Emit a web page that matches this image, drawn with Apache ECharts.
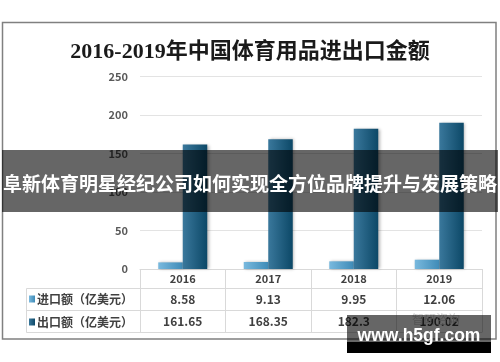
<!DOCTYPE html>
<html>
<head>
<meta charset="utf-8">
<script src="https://cdn.jsdelivr.net/npm/echarts@6/dist/echarts.min.js"></script>
<style>html,body{margin:0;padding:0;background:#fff}#c{width:500px;height:362px}</style>
</head>
<body>
<div id="c"></div>
<script>
var titleText = '2016-2019年中国体育用品进出口金额';
var years = ['2016', '2017', '2018', '2019'];
var importName = '进口额（亿美元）';
var exportName = '出口额（亿美元）';
var importVals = [8.58, 9.13, 9.95, 12.06];
var exportVals = [161.65, 168.35, 182.3, 190.02];
var yTicks = [0, 50, 100, 150, 200, 250];
var bannerText = '阜新体育明星经纪公司如何实现全方位品牌提升与发展策略';
var watermarkText = 'www.h5gf.com';
var logoText = '智研咨询';

var chart = echarts.init(document.getElementById('c'), null, {renderer: 'canvas'});
var lineC = '#d9d9d9';
var txtC = '#404040';
var cjk = "'Noto Sans CJK SC', sans-serif";

function tableAxis(offset, vals) {
  return {
    type: 'category', data: years, position: 'bottom', offset: offset,
    axisLine: {show: true, lineStyle: {color: lineC, width: 1}},
    axisTick: {show: false},
    axisLabel: {
      show: !!vals, margin: 5, color: txtC, fontSize: 12, fontWeight: 'bold', fontFamily: cjk,
      formatter: function (v, i) { return vals ? String(vals[i]) : ''; }
    }
  };
}

var option = {
  backgroundColor: '#fff',
  animation: false,
  title: {
    text: titleText, left: 'center', top: 36,
    textStyle: {fontSize: 22, fontWeight: 'bold', color: '#1a1a1a', fontFamily: "'Liberation Serif', 'Noto Sans CJK SC', serif"}
  },
  legend: {
    orient: 'vertical', left: 29, top: 292, padding: 0, itemWidth: 6, itemHeight: 7, itemGap: 9,
    icon: 'rect', selectedMode: false,
    textStyle: {fontSize: 12, fontWeight: 'bold', color: txtC, fontFamily: cjk, lineHeight: 14, padding: [0, 0, 0, -3]},
    data: [importName, exportName]
  },
  grid: {left: 140, right: 18, top: 76.5, bottom: 93},
  xAxis: [
    {
      type: 'category', data: years, position: 'bottom',
      axisLine: {show: true, lineStyle: {color: lineC}},
      axisTick: {show: true, length: 63, lineStyle: {color: lineC}},
      axisLabel: {margin: 4, color: txtC, fontSize: 11, fontWeight: 'bold', fontFamily: cjk}
    },
    tableAxis(19, importVals),
    tableAxis(41, exportVals),
    tableAxis(63, null)
  ],
  yAxis: {
    type: 'value', min: 0, max: 250, interval: 50,
    axisLine: {show: false}, axisTick: {show: false},
    axisLabel: {margin: 12, color: '#595959', fontSize: 11, fontWeight: 'bold', fontFamily: cjk,
      formatter: function (v) { return yTicks.indexOf(v) >= 0 ? String(v) : ''; }},
    splitLine: {lineStyle: {color: '#e3e3e3', width: 1}}
  },
  series: [
    {
      name: importName, type: 'bar', data: importVals, barWidth: 24.5, barGap: '0%',
      itemStyle: {
        color: new echarts.graphic.LinearGradient(0, 0, 1, 0, [{offset: 0, color: '#79b9de'}, {offset: 1, color: '#3f8bb7'}]),
        shadowColor: 'rgba(0,0,0,0.3)', shadowBlur: 3, shadowOffsetX: 1.5
      }
    },
    {
      name: exportName, type: 'bar', data: exportVals, barWidth: 24.5,
      itemStyle: {
        color: new echarts.graphic.LinearGradient(0, 0, 1, 0, [{offset: 0, color: '#3a789c'}, {offset: 1, color: '#0c4867'}]),
        shadowColor: 'rgba(0,0,0,0.3)', shadowBlur: 3, shadowOffsetX: 1.5
      }
    }
  ],
  graphic: [
    {type: 'rect', z: 0, silent: true, shape: {x: 2.5, y: 22.5, width: 493.5, height: 316.5},
      style: {fill: 'none', stroke: '#808080', lineWidth: 1.5}},
    {type: 'polyline', z: 1, silent: true, shape: {points: [[140, 288.5], [26.5, 288.5], [26.5, 332.5], [140, 332.5]]},
      style: {fill: 'none', stroke: lineC, lineWidth: 1}},
    {type: 'line', z: 1, silent: true, shape: {x1: 26.5, y1: 310.5, x2: 140, y2: 310.5},
      style: {stroke: lineC, lineWidth: 1}},
    {type: 'text', z: 5, silent: true, left: 412, top: 313,
      style: {text: logoText, fill: '#cfcfcf', font: "12px 'Noto Sans CJK SC'"}},
    {type: 'rect', z: 100, silent: true, shape: {x: 2, y: 150, width: 496, height: 62},
      style: {fill: 'rgba(0,0,0,0.6)'}},
    {type: 'text', z: 101, silent: true, x: 250, y: 184,
      style: {text: bannerText, fill: '#fff', align: 'center', verticalAlign: 'middle',
        font: "bold 19px 'Noto Sans CJK SC'"}},
    {type: 'rect', z: 100, silent: true, shape: {x: 347, y: 315, width: 144, height: 27},
      style: {fill: 'rgba(0,0,0,0.6)'}},
    {type: 'rect', z: 100, silent: true, shape: {x: 347, y: 342, width: 144, height: 11},
      style: {fill: '#000'}},
    {type: 'text', z: 101, silent: true, x: 419, y: 336,
      style: {text: watermarkText, fill: '#fff', align: 'center', verticalAlign: 'middle',
        font: "bold 17.5px 'Liberation Sans'"}}
  ]
};
chart.setOption(option);
</script>
</body>
</html>
